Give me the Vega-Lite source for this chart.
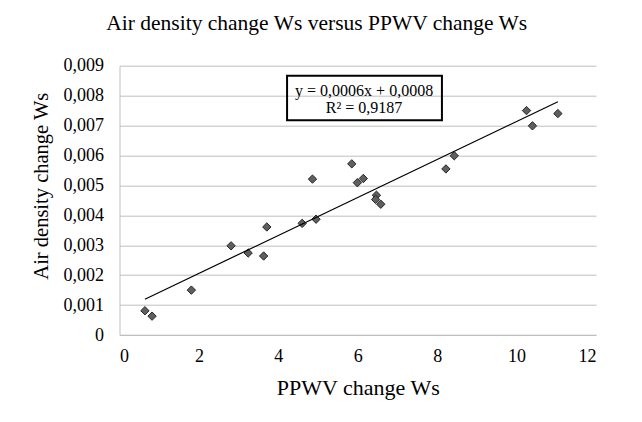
{
  "$schema": "https://vega.github.io/schema/vega-lite/v6.json",
  "autosize": "none",
  "width": 476.5,
  "height": 269.3,
  "padding": {"left": 119.5, "top": 65.7, "right": 46, "bottom": 87},
  "background": "white",
  "config": {
    "font": "Liberation Serif",
    "view": {"stroke": null},
    "axis": {"labelFont": "Liberation Serif", "titleFont": "Liberation Serif", "labelColor": "#000000", "titleColor": "#000000", "titleFontWeight": "normal", "domainColor": "#bfbfbf", "gridColor": "#bfbfbf", "ticks": false, "labelOverlap": false}
  },
  "title": {"text": "Air density change Ws versus PPWV change Ws", "font": "Liberation Serif", "fontSize": 21.5, "fontWeight": "normal", "color": "#000000", "anchor": "middle", "dx": -41, "offset": 22},
  "datasets": {
    "points": [
      {"ppwv": 0.64, "air": 0.00081},
      {"ppwv": 0.82, "air": 0.00063},
      {"ppwv": 1.81, "air": 0.0015},
      {"ppwv": 2.81, "air": 0.00298},
      {"ppwv": 3.24, "air": 0.00274},
      {"ppwv": 3.63, "air": 0.00264},
      {"ppwv": 3.71, "air": 0.00361},
      {"ppwv": 4.6, "air": 0.00373},
      {"ppwv": 4.95, "air": 0.00387},
      {"ppwv": 4.86, "air": 0.00521},
      {"ppwv": 5.85, "air": 0.00572},
      {"ppwv": 5.99, "air": 0.00509},
      {"ppwv": 6.14, "air": 0.00523},
      {"ppwv": 6.47, "air": 0.00467},
      {"ppwv": 6.45, "air": 0.00453},
      {"ppwv": 6.58, "air": 0.00437},
      {"ppwv": 8.22, "air": 0.00555},
      {"ppwv": 8.43, "air": 0.00599},
      {"ppwv": 10.25, "air": 0.0075},
      {"ppwv": 10.4, "air": 0.00699},
      {"ppwv": 11.04, "air": 0.0074}
    ],
    "box": [{"ppwv": 4.22, "ppwv_end": 8.12, "air": 0.00718, "air_end": 0.00866}],
    "label": [
      {"ppwv": 6.16, "air": 0.00817, "text": "y = 0,0006x + 0,0008"},
      {"ppwv": 6.16, "air": 0.00757, "text": "R² = 0,9187"}
    ]
  },
  "encoding": {
    "x": {"field": "ppwv", "type": "quantitative", "scale": {"domain": [0, 12], "nice": false}, "axis": {"values": [0, 2, 4, 6, 8, 10, 12], "grid": false, "title": "PPWV change Ws", "labelFont": "Liberation Serif", "titleFont": "Liberation Serif", "labelFontSize": 18, "titleFontSize": 22, "labelPadding": 12, "titlePadding": 12, "labelOverlap": false}},
    "y": {"field": "air", "type": "quantitative", "scale": {"domain": [0, 0.009], "nice": false}, "axis": {"values": [0, 0.001, 0.002, 0.003, 0.004, 0.005, 0.006, 0.007, 0.008, 0.009], "labelExpr": "datum.value == 0 ? '0' : replace(format(datum.value, '.3f'), '.', ',')", "grid": true, "title": "Air density change Ws", "labelFont": "Liberation Serif", "titleFont": "Liberation Serif", "labelFontSize": 18, "titleFontSize": 20.5, "labelPadding": 16, "titlePadding": 12, "labelOverlap": false, "titleY": 120}}
  },
  "layer": [
    {
      "data": {"name": "points"},
      "mark": {"type": "point", "shape": "diamond", "filled": true, "size": 70, "fill": "#5f5f5f", "stroke": "#262626", "strokeWidth": 1, "opacity": 1}
    },
    {
      "data": {"name": "points"},
      "transform": [{"regression": "air", "on": "ppwv"}],
      "mark": {"type": "line", "color": "#000000", "strokeWidth": 1.2}
    },
    {
      "data": {"name": "box"},
      "mark": {"type": "rect", "fill": null, "fillOpacity": 0, "stroke": "#000000", "strokeWidth": 2},
      "encoding": {
        "x2": {"field": "ppwv_end"},
        "y2": {"field": "air_end"}
      }
    },
    {
      "data": {"name": "label"},
      "mark": {"type": "text", "font": "Liberation Serif", "fontSize": 16, "color": "#000000", "align": "center", "baseline": "middle"},
      "encoding": {
        "text": {"field": "text"}
      }
    }
  ]
}
